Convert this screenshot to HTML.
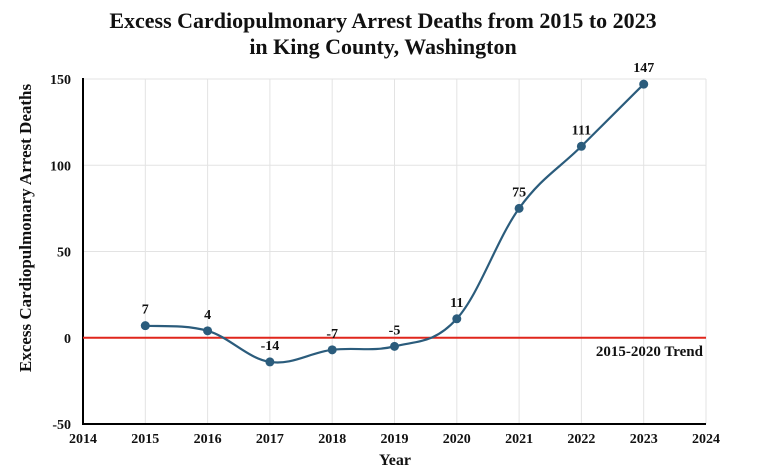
<!DOCTYPE html>
<html><head><meta charset="utf-8"><style>
body{margin:0;background:#fff;}
svg text{font-family:"Liberation Serif",serif;font-weight:bold;fill:#111;}
</style></head><body>
<svg id="c" width="762" height="466">
<text x="383" y="28" font-size="22" text-anchor="middle">Excess Cardiopulmonary Arrest Deaths from 2015 to 2023</text>
<text x="383" y="54" font-size="22" text-anchor="middle">in King County, Washington</text>
<text transform="translate(31,228) rotate(-90)" font-size="17" text-anchor="middle">Excess Cardiopulmonary Arrest Deaths</text>
<text x="395" y="465" font-size="16" text-anchor="middle">Year</text>
<g id="grid"></g><g id="marks"></g>
</svg>
<script>
const years=[2015,2016,2017,2018,2019,2020,2021,2022,2023];
const deaths=[7,4,-14,-7,-5,11,75,111,147];
const labels=["7","4","-14","-7","-5","11","75","111","147"];
const xTicks=[2014,2015,2016,2017,2018,2019,2020,2021,2022,2023,2024];
const yTicks=[-50,0,50,100,150];
const trendValue=0;
const NS="http://www.w3.org/2000/svg";
const X0=83,X1=706,Y0=424,Y1=79;
const x=v=>X0+(v-2014)/(2024-2014)*(X1-X0);
const y=v=>Y0-(v+50)/200*(Y0-Y1);
function mk(tag,attrs,parent){const e=document.createElementNS(NS,tag);for(const k in attrs)e.setAttribute(k,attrs[k]);parent.appendChild(e);return e;}
const g=document.getElementById('grid'),m=document.getElementById('marks');
yTicks.forEach(t=>{
 const l=mk('line',{x1:X0,x2:X1,y1:y(t),y2:y(t),stroke:'#e3e3e3','stroke-width':1},g);
 
 
 const tx=mk('text',{x:X0-12,y:y(t)+5,'font-size':14,'text-anchor':'end'},g);tx.textContent=t;
 
 
});
xTicks.forEach(t=>{
 if(t>2014){const l=mk('line',{x1:x(t),x2:x(t),y1:Y1,y2:Y0,stroke:'#e3e3e3','stroke-width':1},g);
 
 }
 const tx=mk('text',{x:x(t),y:Y0+19,'font-size':14,'text-anchor':'middle'},g);tx.textContent=t;
 
 
});
let ax=mk('line',{x1:X0,x2:X0,y1:Y1-1,y2:Y0+1,stroke:'#000','stroke-width':2},g);


ax=mk('line',{x1:X0-1,x2:X1,y1:Y0,y2:Y0,stroke:'#000','stroke-width':2},g);


const tr=mk('line',{x1:X0,x2:X1,y1:y(trendValue),y2:y(trendValue),stroke:'#e0261c','stroke-width':2},m);


const tl=mk('text',{x:703,y:y(trendValue)+18,'font-size':15,'text-anchor':'end'},m);tl.textContent='2015-2020 Trend';


const P=years.map((yr,i)=>[x(yr),y(deaths[i])]);
let d='M'+P[0][0]+','+P[0][1];
for(let i=0;i<P.length-1;i++){
 const p0=P[Math.max(0,i-1)],p1=P[i],p2=P[i+1],p3=P[Math.min(P.length-1,i+2)];
 const tt=0.18;
 const c1=[p1[0]+(p2[0]-p0[0])*tt,p1[1]+(p2[1]-p0[1])*tt];
 const c2=[p2[0]-(p3[0]-p1[0])*tt,p2[1]-(p3[1]-p1[1])*tt];
 d+=` C${c1[0]},${c1[1]} ${c2[0]},${c2[1]} ${p2[0]},${p2[1]}`;
}
const path=mk('path',{d:d,fill:'none',stroke:'#2b5c7c','stroke-width':2.2},m);


P.forEach((p,i)=>{
 const c=mk('circle',{cx:p[0],cy:p[1],r:4.5,fill:'#2b5c7c'},m);
 
 
 const t=mk('text',{x:p[0],y:p[1]-12,'font-size':14,'text-anchor':'middle'},m);t.textContent=labels[i];
 
 
});
</script>
</body></html>
